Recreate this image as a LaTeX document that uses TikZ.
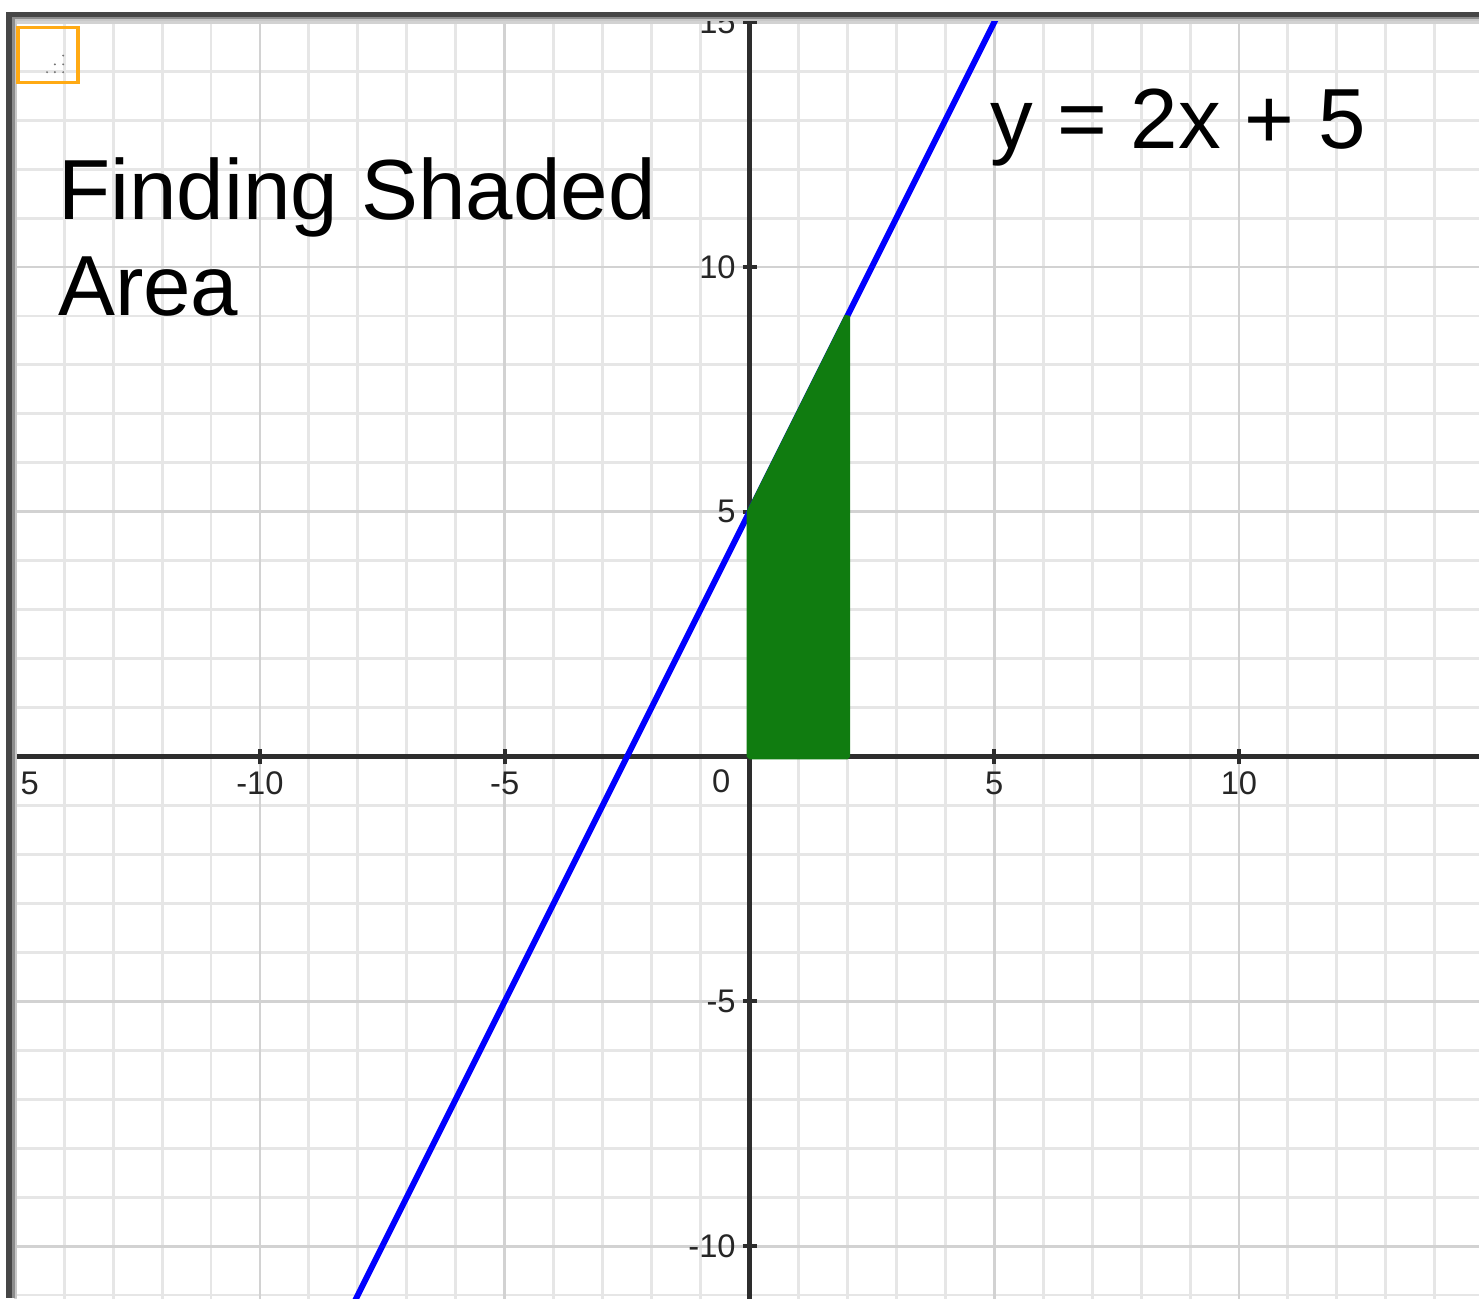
\documentclass[tikz,border=0pt]{standalone}
\usepackage{fontspec}
\setmainfont{Liberation Sans}
\definecolor{gridminor}{RGB}{230,230,230}
\definecolor{gridmajor}{RGB}{210,210,210}
\definecolor{axiscol}{RGB}{45,45,45}
\definecolor{areagreen}{RGB}{16,124,16}
\definecolor{boxorange}{RGB}{255,170,20}
\definecolor{framedark}{RGB}{70,70,70}
\definecolor{framemid}{RGB}{140,140,140}
\definecolor{framelight}{RGB}{200,200,200}
\tikzset{
  minorline/.style={gridminor, line width=1.7pt},
  majorline/.style={gridmajor, line width=1.7pt},
  axisline/.style={axiscol, line width=2.5pt},
  tickmark/.style={axiscol, line width=2.5pt},
  ticklab/.style={inner sep=0pt, text=black!85, font=\fontsize{19pt}{22pt}\selectfont},
  bigtext/.style={inner sep=0pt, anchor=base west, text=black, font=\fontsize{49.6pt}{57pt}\selectfont},
}
\begin{document}
\begin{tikzpicture}[x=1cm,y=1cm]
\useasboundingbox (-15.311,-11.226) rectangle (14.903,15.455);
\fill[white] (-15.311,-11.226) rectangle (14.903,15.455);
\begin{scope}
  \clip (-15.066,-11.062) rectangle (14.95,15.107);
  % grid
  \foreach \x in {-15,...,14} \draw[minorline] (\x,-11.3) -- (\x,15.3);
  \foreach \y in {-11,...,15} \draw[minorline] (-15.3,\y) -- (15,\y);
  \foreach \x in {-15,-10,-5,5,10} \draw[majorline] (\x,-11.3) -- (\x,15.3);
  \foreach \y in {-10,-5,5,10,15} \draw[majorline] (-15.3,\y) -- (15,\y);
  % axes
  \coordinate (xa) at (-15.3,0);
  \coordinate (xb) at (15,0);
  \coordinate (ya) at (0,-11.3);
  \coordinate (yb) at (0,15.3);
  \draw[axisline] (xa) -- (xb);
  \draw[axisline] (ya) -- (yb);
  \foreach \x in {-15,-10,-5,5,10} {
    \draw[tickmark] (\x,-0.16) -- (\x,0.16);
  }
  \foreach \y in {-10,-5,5,10,15} {
    \draw[tickmark] (-0.14,\y) -- (0.16,\y);
    \node[ticklab, anchor=east] (yl\y) at (-0.276,\y) {\y};
  }
  \node[ticklab] (zero) at (-0.58,-0.5) {0};
  % line y = 2x + 5
  \coordinate (la) at (-9,-13);
  \coordinate (lb) at (6,17);
  \draw[blue, line width=3.5pt] (la) -- (lb);
  % shaded area
  \filldraw[fill=areagreen, draw=areagreen, line width=3.3pt, line join=bevel]
    (0,0) -- (2,0) -- (2,9) -- (0,5) -- cycle;
\end{scope}
\begin{scope}
  \clip (-14.92,-11.062) rectangle (14.95,15.107);
  \foreach \x in {-15,-10,-5,5,10} {
    \node[ticklab] (xl\x) at (\x,-0.55) {\x};
  }
\end{scope}
% texts
\node[bigtext] (title1) at (-14.13,10.98) {Finding Shaded};
\node[bigtext] (title2) at (-14.13,9.00) {Area};
\node[bigtext] (eqn) at (4.925,12.43) {y = 2x + 5};
% frame
\fill[framedark] (-15.189,-11.062) rectangle (-15.066,15.209);
\fill[framemid] (-15.066,-11.062) rectangle (-15.005,15.107);
\fill[framelight] (-15.005,-11.062) rectangle (-14.964,15.066);
\fill[framedark] (-15.189,15.107) rectangle (14.903,15.209);
\fill[framemid] (-15.066,15.066) rectangle (14.903,15.107);
\fill[framelight] (-15.005,15.025) rectangle (14.903,15.066);
% orange grip box
\node[draw=boxorange, line width=1.8pt, minimum width=1.225cm, minimum height=1.123cm, inner sep=0pt, anchor=north west] (grip) at (-14.974,14.933) {};
\foreach \p in {(-14.35,13.98),(-14.19,13.98),(-14.02,13.98),(-14.19,14.14),(-14.02,14.14),(-14.02,14.32)}
  \fill[black!55] \p circle (0.022);
\end{tikzpicture}
\end{document}
